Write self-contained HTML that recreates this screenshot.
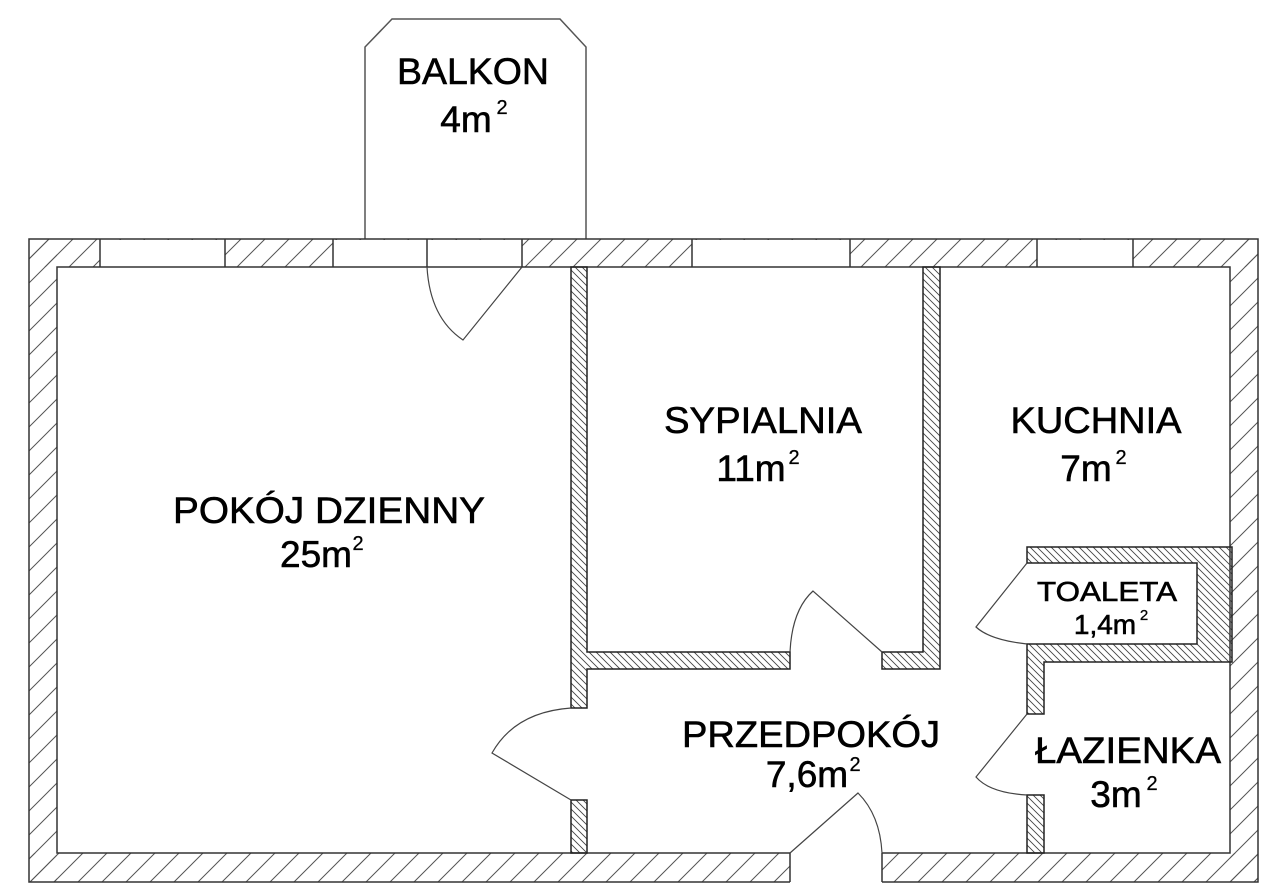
<!DOCTYPE html>
<html><head><meta charset="utf-8"><style>html,body{margin:0;padding:0;background:#fff}svg{display:block}</style></head>
<body>
<svg width="1280" height="895" viewBox="0 0 1280 895" xmlns="http://www.w3.org/2000/svg">
<defs>
<pattern id="ho" patternUnits="userSpaceOnUse" width="24" height="24">
<path d="M-6,30 L30,-6 M-6,6 L6,-6 M18,30 L30,18" stroke="#555" stroke-width="1"/>
</pattern>
<pattern id="hi" patternUnits="userSpaceOnUse" width="7" height="7">
<path d="M-2,-2 L9,9 M-2,5 L2,9 M5,-2 L9,2" stroke="#444" stroke-width="0.9"/>
</pattern>
</defs>
<!-- balcony -->
<path d="M365,239 L365,47 L392,19 L560,19 L586,47 L586,239" fill="#fff" stroke="#555" stroke-width="1.5"/>
<!-- outer walls -->
<g stroke="none" fill="url(#ho)">
<rect x="29" y="239" width="1229" height="28"/>
<rect x="29" y="853" width="1229" height="29"/>
<rect x="29" y="239" width="28" height="643"/>
<rect x="1230" y="239" width="28" height="643"/>
</g>
<rect x="57" y="267" width="1173" height="586" fill="#fff" stroke="none"/>
<g fill="#fff" stroke="none">
<rect x="100" y="240" width="125" height="27"/>
<rect x="333" y="240" width="189" height="27"/>
<rect x="692" y="240" width="158" height="27"/>
<rect x="1037" y="240" width="96" height="27"/>
<rect x="790" y="852" width="92" height="32"/>
</g>
<g stroke="#333" stroke-width="1.5" fill="none">
<path d="M100,239V267 M225,239V267 M333,239V267 M427,239V267 M522,239V267 M692,239V267 M850,239V267 M1037,239V267 M1133,239V267 M790,853V882 M882,853V882"/>
<polyline points="790,882 29,882 29,239 1258,239 1258,882 882,882"/>
<polyline points="790,853 57,853 57,267 1230,267 1230,853 882,853"/>
</g>
<g stroke="#222" stroke-width="1.5" fill="url(#hi)">
<path d="M571,267 V708 H587 V669 H790 V652 H587 V267 Z"/>
<rect x="571" y="800" width="16" height="53"/>
<path d="M882,652 V669 H940 V267 H923 V652 Z"/>
<path d="M1027,547 H1232 V662 H1044 V714 H1027 V644 H1197 V563 H1027 Z"/>
<rect x="1027" y="795" width="17" height="58"/>
</g>
<g fill="none" stroke="#444" stroke-width="1.2">
<path d="M427,267 Q430,318 463,340 L522,267"/>
<path d="M571,800 L492,753 Q515,712 571,708"/>
<path d="M790,652 Q792,610 813,591 L882,652"/>
<path d="M790,853 L858,793 Q880,815 882,853"/>
<path d="M1027,563 L976,627 Q990,640 1027,644"/>
<path d="M1027,714 L976,777 Q990,793 1027,795"/>
</g>
<g font-family="Liberation Sans, Arial, sans-serif" fill="#000" font-size="37" text-anchor="middle" stroke="#000" stroke-width="0.6">
<text x="473" y="84" textLength="152" lengthAdjust="spacingAndGlyphs">BALKON</text>
<text x="466" y="132">4m</text><text x="502" y="114" font-size="20" stroke-width="0.3">2</text>
<text x="329" y="523" textLength="312" lengthAdjust="spacingAndGlyphs">POKÓJ DZIENNY</text>
<text x="316" y="567">25m</text><text x="358" y="550" font-size="20" stroke-width="0.3">2</text>
<text x="763" y="433" textLength="198" lengthAdjust="spacingAndGlyphs">SYPIALNIA</text>
<text x="751" y="481">11m</text><text x="794" y="464" font-size="20" stroke-width="0.3">2</text>
<text x="1096" y="433" textLength="171" lengthAdjust="spacingAndGlyphs">KUCHNIA</text>
<text x="1086" y="481">7m</text><text x="1121" y="464" font-size="20" stroke-width="0.3">2</text>
<text x="1107" y="601" font-size="28" textLength="140" lengthAdjust="spacingAndGlyphs">TOALETA</text>
<text x="1105" y="634" font-size="28">1,4m</text><text x="1144" y="620" font-size="15" stroke-width="0.3">2</text>
<text x="1128" y="763" textLength="186" lengthAdjust="spacingAndGlyphs">ŁAZIENKA</text>
<text x="1116" y="807">3m</text><text x="1152" y="790" font-size="20" stroke-width="0.3">2</text>
<text x="811" y="747" textLength="258" lengthAdjust="spacingAndGlyphs">PRZEDPOKÓJ</text>
<text x="807" y="787">7,6m</text><text x="855" y="771" font-size="20" stroke-width="0.3">2</text>
</g>
</svg>
</body></html>
